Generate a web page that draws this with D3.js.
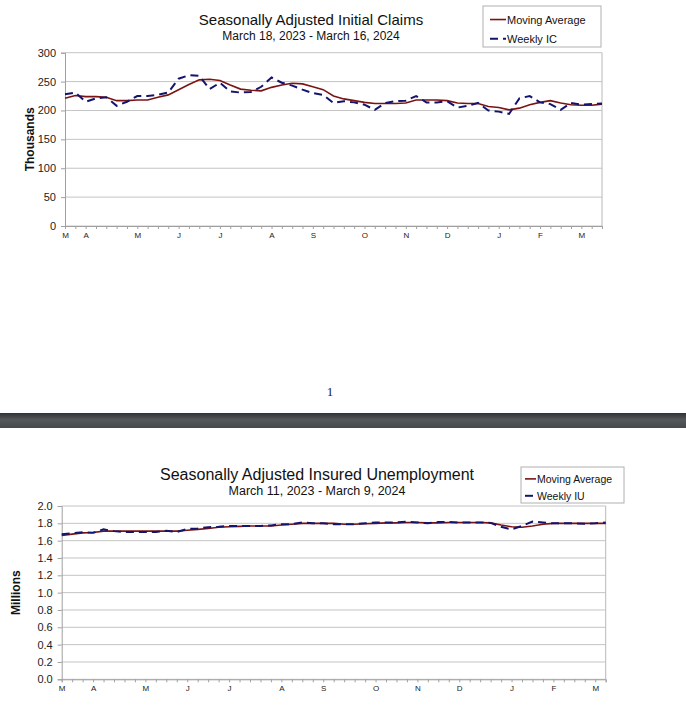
<!DOCTYPE html>
<html><head><meta charset="utf-8">
<script src="https://cdn.jsdelivr.net/npm/d3@7"></script>
<style>
html,body{margin:0;padding:0;background:#fff;}
svg{display:block;font-family:"Liberation Sans",Arial,sans-serif;}
</style></head>
<body>
<svg id="page" width="686" height="719"></svg>
<script>
// ---- Initial claims (thousands), weeks ending Mar 18, 2023 .. Mar 16, 2024
const icMonthLabels = [
  "M","","A","","","","","M","","","",
  "J","","","","J","","","","",
  "A","","","","S","","","","",
  "O","","","","N","","","","D","","","","",
  "J","","","","F","","","","M","",""];
const icWeekly = [228,231,215,221,223,208,215,225,225,227,231,255,261,260,237,248,233,231,232,241,257,248,243,236,230,227,213,216,214,210,201,213,216,217,225,214,214,216,205,208,213,200,198,194,221,225,214,211,201,213,210,211,212];
const icMA     = [221,226,224,224,223,217,217,218,218,223,227,236,245,253,254,252,244,237,235,234,240,244,247,246,241,236,225,220,217,214,212,212,212,213,218,218,218,217,213,212,212,207,205,201,204,210,214,217,213,210,209,209,211];
const icYTicks = [0,50,100,150,200,250,300];

// ---- Insured unemployment (millions), weeks ending Mar 11, 2023 .. Mar 9, 2024
const iuMonthLabels = [
  "M","","","A","","","","","M","","","",
  "J","","","","J","","","","",
  "A","","","","S","","","","",
  "O","","","","N","","","","D","","","","",
  "J","","","","F","","","","M",""];
const iuWeekly = [1.673,1.685,1.696,1.690,1.730,1.710,1.700,1.700,1.700,1.700,1.715,1.700,1.735,1.740,1.755,1.760,1.770,1.770,1.770,1.770,1.775,1.790,1.790,1.810,1.800,1.800,1.790,1.790,1.790,1.800,1.810,1.810,1.810,1.820,1.810,1.800,1.815,1.815,1.810,1.810,1.810,1.805,1.760,1.730,1.770,1.820,1.810,1.800,1.800,1.800,1.795,1.800,1.810];
const iuMA     = [1.660,1.675,1.690,1.695,1.710,1.710,1.710,1.710,1.710,1.710,1.710,1.710,1.720,1.730,1.740,1.755,1.760,1.765,1.770,1.770,1.770,1.780,1.790,1.800,1.800,1.800,1.800,1.790,1.790,1.795,1.800,1.805,1.805,1.810,1.810,1.805,1.805,1.810,1.810,1.810,1.810,1.805,1.780,1.760,1.755,1.770,1.790,1.800,1.800,1.800,1.800,1.800,1.800];
const iuYTicks = [0,0.2,0.4,0.6,0.8,1.0,1.2,1.4,1.6,1.8,2.0];

const svg = d3.select("#page");

function drawChart(o){
  const g = svg.append("g");
  const n = o.weekly.length;
  const x = d3.scaleLinear().domain([0,n-1]).range([o.left,o.right]);
  const y = d3.scaleLinear().domain(o.yDomain).range([o.bottom,o.top]);

  // gridlines
  g.append("g").selectAll("line").data(o.yTicks).join("line")
    .attr("x1",o.left).attr("x2",o.right)
    .attr("y1",d=>y(d)).attr("y2",d=>y(d))
    .attr("stroke","#c4c4c4").attr("stroke-width",1);
  // right border
  g.append("line").attr("x1",o.right).attr("x2",o.right).attr("y1",o.top).attr("y2",o.bottom)
    .attr("stroke","#b8b8b8");

  // y axis
  const ya = d3.axisLeft(y).tickValues(o.yTicks).tickFormat(o.yFormat).tickSize(4).tickPadding(5);
  const yg = g.append("g").attr("transform",`translate(${o.left},0)`).call(ya);
  yg.select(".domain").attr("stroke","#a0a0a0");
  yg.selectAll(".tick line").attr("stroke","#a0a0a0");
  yg.selectAll("text").attr("font-size",11).attr("fill","#222").attr("font-family","Liberation Sans, Arial, sans-serif");

  // x axis
  const xa = d3.axisBottom(x).tickValues(d3.range(n)).tickFormat(i=>o.xLabels[i]).tickSize(3).tickPadding(3);
  const xg = g.append("g").attr("transform",`translate(0,${o.bottom})`).call(xa);
  xg.select(".domain").attr("stroke","#a0a0a0");
  xg.selectAll(".tick line").attr("stroke","#a0a0a0");
  xg.selectAll("text").attr("font-size",8).attr("fill","#222").attr("font-family","Liberation Sans, Arial, sans-serif");

  // y title
  g.append("text").attr("transform",`translate(${o.yTitleX},${(o.top+o.bottom)/2}) rotate(-90)`)
    .attr("text-anchor","middle").attr("font-size",12).attr("font-weight","bold").attr("fill","#111")
    .text(o.yTitle);

  // lines
  const line = d3.line().x((d,i)=>x(i)).y(d=>y(d));
  g.append("path").datum(o.ma).attr("d",line).attr("fill","none")
    .attr("stroke","#7a1414").attr("stroke-width",1.6);
  g.append("path").datum(o.weekly).attr("d",line).attr("fill","none")
    .attr("stroke","#14146e").attr("stroke-width",2).attr("stroke-dasharray","8,5");

  // titles
  g.append("text").attr("x",o.titleX).attr("y",o.titleY).attr("text-anchor","middle")
    .attr("font-size",o.titleFs).attr("fill","#111").text(o.title);
  g.append("text").attr("x",o.titleX).attr("y",o.titleY+o.subGap).attr("text-anchor","middle")
    .attr("font-size",o.subFs).attr("fill","#111").text(o.subtitle);

  // legend
  const L = o.legend;
  g.append("rect").attr("x",L.x).attr("y",L.y).attr("width",L.w).attr("height",L.h)
    .attr("fill","#fff").attr("stroke","#b0b0b0");
  g.append("line").attr("x1",L.x+L.l0).attr("x2",L.x+L.l1).attr("y1",L.y+L.h*0.33).attr("y2",L.y+L.h*0.33)
    .attr("stroke","#7a1414").attr("stroke-width",1.6);
  g.append("text").attr("x",L.x+L.t).attr("y",L.y+L.h*0.33+4).attr("font-size",L.fs).attr("fill","#111").text("Moving Average");
  g.append("line").attr("x1",L.x+L.l0).attr("x2",L.x+L.l1).attr("y1",L.y+L.h*0.8).attr("y2",L.y+L.h*0.8)
    .attr("stroke","#14146e").attr("stroke-width",2).attr("stroke-dasharray","8,5");
  g.append("text").attr("x",L.x+L.t).attr("y",L.y+L.h*0.8+4).attr("font-size",L.fs).attr("fill","#111").text(o.weeklyName);
}

drawChart({
  weekly: icWeekly, ma: icMA, xLabels: icMonthLabels, yTicks: icYTicks,
  yDomain:[0,300], yFormat: d3.format("d"),
  left:65, right:602, top:52.7, bottom:226,
  yTitle:"Thousands", yTitleX:34,
  title:"Seasonally Adjusted Initial Claims", subtitle:"March 18, 2023 - March 16, 2024",
  titleX:311, titleY:25, subGap:14.5, titleFs:15, subFs:12,
  legend:{x:483,y:6,w:118,h:41,l0:7,l1:23,t:24,fs:11}, weeklyName:"Weekly IC"
});

drawChart({
  weekly: iuWeekly, ma: iuMA, xLabels: iuMonthLabels, yTicks: iuYTicks,
  yDomain:[0,2], yFormat: d3.format(".1f"),
  left:61.7, right:605.7, top:506, bottom:679.3,
  yTitle:"Millions", yTitleX:20,
  title:"Seasonally Adjusted Insured Unemployment", subtitle:"March 11, 2023 - March 9, 2024",
  titleX:317, titleY:480, subGap:14.5, titleFs:16, subFs:12.5,
  legend:{x:521,y:467,w:103,h:36,l0:4,l1:15,t:16,fs:10.5}, weeklyName:"Weekly IU"
});

// page number
svg.append("text").attr("x",330).attr("y",396).attr("text-anchor","middle")
  .attr("font-family","Liberation Serif, Times New Roman, serif").attr("font-size",13).attr("fill","#222").text("1");

// separator bar
const grad = svg.append("defs").append("linearGradient").attr("id","bar").attr("x1",0).attr("x2",0).attr("y1",0).attr("y2",1);
grad.append("stop").attr("offset","0%").attr("stop-color","#2f3235");
grad.append("stop").attr("offset","45%").attr("stop-color","#54585b");
grad.append("stop").attr("offset","100%").attr("stop-color","#45494c");
svg.append("rect").attr("x",0).attr("y",413).attr("width",686).attr("height",15).attr("fill","url(#bar)");
</script>
</body></html>
